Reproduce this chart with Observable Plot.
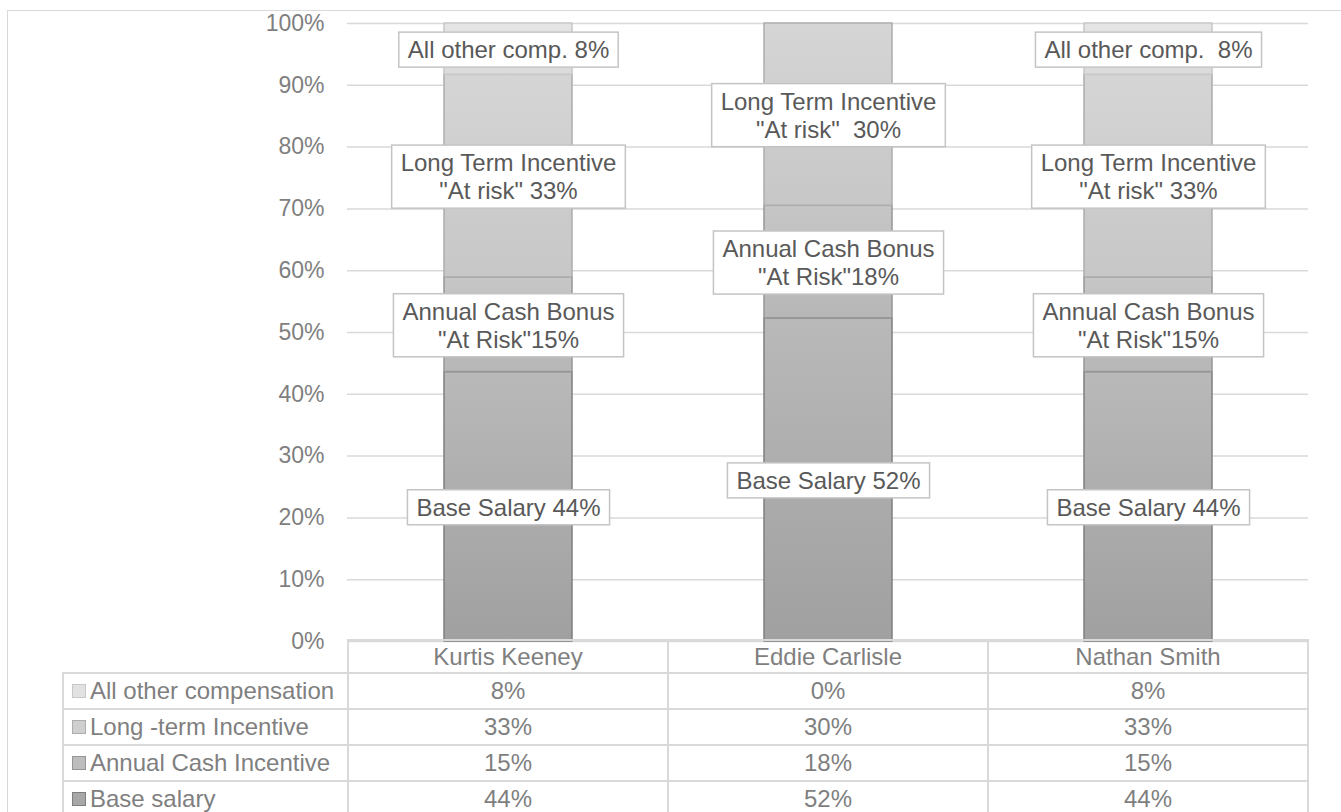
<!DOCTYPE html>
<html><head><meta charset="utf-8">
<script src="https://cdn.jsdelivr.net/npm/d3@7"></script>
<script src="https://cdn.jsdelivr.net/npm/@observablehq/plot@0.6"></script>
<style>
html,body{margin:0;padding:0;background:#fff;overflow:hidden;}
body{width:1341px;height:812px;position:relative;font-family:"Liberation Sans",Arial,sans-serif;}
#frame{position:absolute;left:7px;top:10px;width:1400px;height:900px;border:1.5px solid #d9d9d9;box-sizing:border-box;}
#chart{position:absolute;left:0;top:0;}
#tbl{position:absolute;border-collapse:collapse;table-layout:fixed;font-size:24px;color:#7f7f7f;}
#tbl td{border:2px solid #d9d9d9;padding:0;text-align:center;white-space:nowrap;overflow:visible;line-height:1;}
#tbl td.corner{border-top:none;border-left:none;}
#tbl td.leg{text-align:left;padding-left:8px;}
.sw{display:inline-block;width:12px;height:12px;border:1px solid #888;margin-right:4px;vertical-align:1px;}
</style></head><body>
<div id="frame"></div>
<div id="chart"></div>
<script>
// ---- data ----
const names = ["Kurtis Keeney", "Eddie Carlisle", "Nathan Smith"];
// stacked bottom -> top
const seriesNames = ["Base salary", "Annual Cash Incentive", "Long -term Incentive", "All other compensation"];
const baseSalary = [43.6, 52.3, 43.6];
const annualCash = [15.3, 18.2, 15.3];
const longTerm = [32.8, 29.5, 32.8];
const allOther = [8.3, 0, 8.3];
const baseLabels = ["Base Salary 44%", "Base Salary 52%", "Base Salary 44%"];
const annualLabels = ["Annual Cash Bonus\n\"At Risk\"15%", "Annual Cash Bonus\n\"At Risk\"18%", "Annual Cash Bonus\n\"At Risk\"15%"];
const longTermLabels = ["Long Term Incentive\n\"At risk\" 33%", "Long Term Incentive\n\"At risk\"  30%", "Long Term Incentive\n\"At risk\" 33%"];
const allOtherLabels = ["All other comp. 8%", "", "All other comp.  8%"];
const yTicks = [0, 10, 20, 30, 40, 50, 60, 70, 80, 90, 100];
const yTickLabels = ["0%", "10%", "20%", "30%", "40%", "50%", "60%", "70%", "80%", "90%", "100%"];

// ---- styles ----
const gradStops = [["#b9b9b9", "#a0a0a0"], ["#c6c6c6", "#b7b7b7"], ["#d5d5d5", "#c7c7c7"], ["#e5e5e5", "#dbdbdb"]];
const strokes = ["#7f7f7f", "#969696", "#adadad", "#c8c8c8"];
const swatchFill = ["#a8a8a8", "#bdbdbd", "#cfcfcf", "#e2e2e2"];

const valueSets = [baseSalary, annualCash, longTerm, allOther];
const labelSets = [baseLabels, annualLabels, longTermLabels, allOtherLabels];

const rows = [];
names.forEach((name, j) => {
  let acc = 0;
  valueSets.forEach((vals, i) => {
    const v = vals[j];
    rows.push({name, si: i, series: seriesNames[i], value: v, y1: acc, y2: acc + v, label: labelSets[i][j]});
    acc += v;
  });
});

const chart = Plot.plot({
  width: 1341,
  height: 660,
  marginLeft: 347,
  marginRight: 33,
  marginTop: 23,
  marginBottom: 19,
  style: {fontFamily: "'Liberation Sans', Arial, sans-serif", fontSize: "23px", color: "#7f7f7f", background: "transparent", overflow: "visible"},
  x: {domain: names, paddingInner: 0.6, paddingOuter: 0.3, axis: null},
  y: {domain: [0, 100], ticks: yTicks, tickFormat: (d) => yTickLabels[yTicks.indexOf(d)], tickSize: 0, tickPadding: 23, label: null},
  marks: [
    Plot.ruleY(yTicks, {stroke: "#d9d9d9", strokeWidth: 1.5}),
    ...seriesNames.map((s, i) => Plot.barY(rows.filter((r) => r.si === i && r.value > 0), {
      x: "name", y1: "y1", y2: "y2", fill: `url(#grad${i})`, stroke: strokes[i], strokeWidth: 1.5
    })),
    Plot.text(rows.filter((r) => r.label), {
      x: "name", y: (r) => (r.y1 + r.y2) / 2, text: "label",
      fontSize: 24, fill: "#595959", lineHeight: 1.17
    })
  ]
});
document.getElementById("chart").appendChild(chart);

// gradients
const svg = d3.select(chart.tagName.toLowerCase() === "svg" ? chart : chart.querySelector("svg"));
const defs = svg.insert("defs", ":first-child");
gradStops.forEach((st, i) => {
  const g = defs.append("linearGradient").attr("id", `grad${i}`).attr("x1", 0).attr("y1", 0).attr("x2", 0).attr("y2", 1);
  g.append("stop").attr("offset", "0%").attr("stop-color", st[0]);
  g.append("stop").attr("offset", "100%").attr("stop-color", st[1]);
});

// label boxes
svg.selectAll('g[aria-label="text"] text').each(function () {
  const b = this.getBBox();
  const r = document.createElementNS("http://www.w3.org/2000/svg", "rect");
  r.setAttribute("x", b.x - 9);
  r.setAttribute("y", b.y - 4);
  r.setAttribute("width", b.width + 18);
  r.setAttribute("height", b.height + 8);
  r.setAttribute("fill", "#ffffff");
  r.setAttribute("stroke", "#c4c4c4");
  r.setAttribute("stroke-width", 1.5);
  const t = this.getAttribute("transform");
  if (t) r.setAttribute("transform", t);
  this.parentNode.insertBefore(r, this);
});

// data table aligned to the x scale
const xs = chart.scale("x");
const colLeft = names.map((n) => xs.apply(n) - (xs.step - xs.bandwidth) / 2);
const colW = xs.step;
const tableLeft = 63, headerTop = 640, headerH = 33, rowH = 36;
const firstW = colLeft[0] - tableLeft;
const tbl = d3.select("body").append("table").attr("id", "tbl")
  .style("left", (tableLeft - 1) + "px").style("top", (headerTop - 1) + "px")
  .style("width", (firstW + colW * names.length) + "px");
const cg = tbl.append("colgroup");
cg.append("col").style("width", firstW + "px");
names.forEach(() => cg.append("col").style("width", colW + "px"));
const hr = tbl.append("tr").style("height", headerH + "px");
hr.append("td").attr("class", "corner");
names.forEach((n) => hr.append("td").text(n));
[3, 2, 1, 0].forEach((i) => {
  const tr = tbl.append("tr").style("height", rowH + "px");
  const td = tr.append("td").attr("class", "leg");
  td.append("span").attr("class", "sw").style("background", swatchFill[i]).style("border-color", strokes[i]);
  td.append("span").text(seriesNames[i]);
  names.forEach((n, j) => tr.append("td").text(Math.round(valueSets[i][j]) + "%"));
});
</script>
</body></html>
